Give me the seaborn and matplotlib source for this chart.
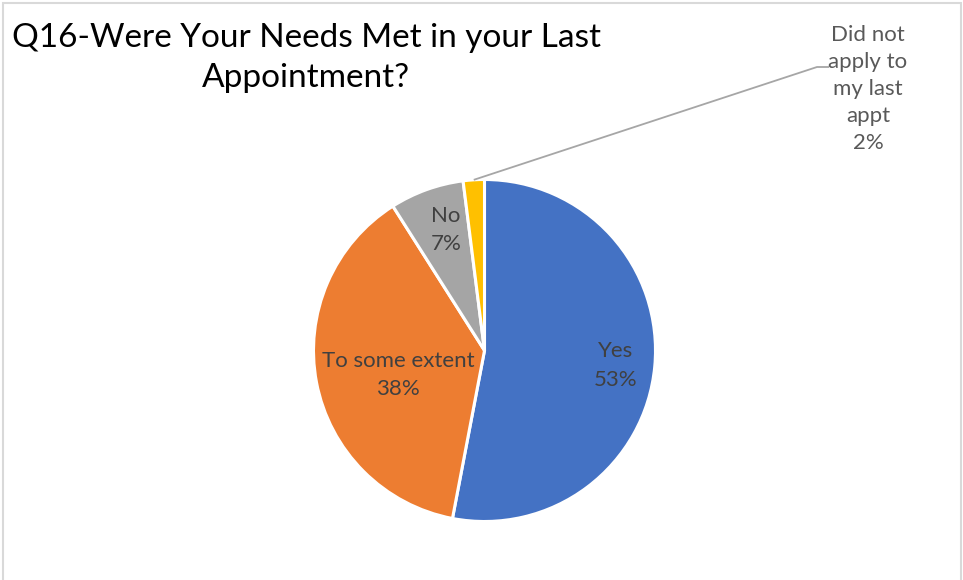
import numpy as np
import matplotlib
matplotlib.use("Agg")
import matplotlib.pyplot as plt
from matplotlib.patches import Rectangle
import seaborn as sns

# Survey responses
categories = ["Yes", "To some extent", "No", "Did not\napply to\nmy last\nappt"]
percentages = [53, 38, 7, 2]
colors = ["#4472C4", "#ED7D31", "#A5A5A5", "#FFC000"]
title = "Q16-Were Your Needs Met in your Last\nAppointment?"

sns.set_theme(style="white")
plt.rcParams["font.family"] = ["Lato", "DejaVu Sans"]

W, H = 963, 580
fig = plt.figure(figsize=(W / 100, H / 100), dpi=100)
ax = fig.add_axes([0, 0, 1, 1])

# pie geometry in pixel-like units (y measured upward)
cx, cy, R = 484.5, H - 350.5, 171

wedges, _ = ax.pie(
    percentages,
    colors=sns.color_palette(colors),
    startangle=90,
    counterclock=False,
    center=(cx, cy),
    radius=R,
    wedgeprops=dict(edgecolor="white", linewidth=2.2),
    frame=True,
)
ax.set_xlim(0, W)
ax.set_ylim(0, H)
ax.set_aspect("equal")
ax.axis("off")

# labels inside the three larger slices: (radius fraction, angle nudge in deg)
anchors = [(0.77, -1.0), (0.526, 5.0), (0.74, -2.0)]
for w, cat, pct, (r, nudge) in zip(wedges[:3], categories[:3],
                                   percentages[:3], anchors):
    mid = np.deg2rad((w.theta1 + w.theta2) / 2 + nudge)
    x = cx + r * R * np.cos(mid)
    y = cy + r * R * np.sin(mid)
    ax.text(x, y, f"{cat}\n{pct}%", ha="center", va="center",
            fontsize=16, color="#404040", linespacing=1.55)

# callout for the smallest slice
w = wedges[3]
mid = np.deg2rad((w.theta1 + w.theta2) / 2)
px, py = cx + R * np.cos(mid), cy + R * np.sin(mid)
ax.plot([px, 817, 829], [py, H - 67, H - 67], color="#A6A6A6", lw=1.3,
        solid_capstyle="butt")
ax.text(868, H - 89, f"{categories[3]}\n{percentages[3]}%", ha="center",
        va="center", fontsize=16, color="#595959", linespacing=1.45)

# title
fig.text(306, H - 58, title, ha="center", va="center", fontsize=24,
         color="#000000", linespacing=1.45, transform=None)

# chart area border
fig.patches.append(Rectangle((2.5, -10), 958, H - 3 + 10, transform=None,
                             fill=False, edgecolor="#D9D9D9", lw=1.5))

fig.savefig("out.png", dpi=100)
